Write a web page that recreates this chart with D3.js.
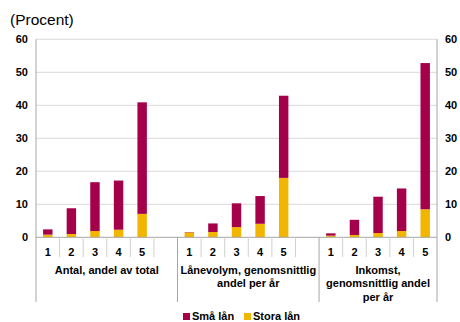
<!DOCTYPE html>
<html>
<head>
<meta charset="utf-8">
<script src="https://cdn.jsdelivr.net/npm/d3@7"></script>
<style>
  html, body { margin: 0; padding: 0; background: #fff; }
  svg text { font-family: "Liberation Sans", Arial, sans-serif; }
</style>
</head>
<body>
<svg id="chart" width="460" height="322"></svg>
<script>
// ---- data ----
const groupLabels = [
  ["Antal, andel av total"],
  ["Lånevolym, genomsnittlig", "andel per år"],
  ["Inkomst,", "genomsnittlig andel", "per år"]
];
const quintiles = ["1", "2", "3", "4", "5"];
// values per group, quintile 1..5
const storaLan = [
  [0.8, 1.0, 1.9, 2.3, 7.1],
  [1.5, 1.6, 3.1, 4.1, 18.0],
  [0.5, 0.7, 1.3, 1.9, 8.5]
];
const smaLan = [
  [1.6, 7.8, 14.8, 14.9, 33.8],
  [0.1, 2.6, 7.2, 8.4, 24.9],
  [0.7, 4.6, 11.0, 12.9, 44.3]
];
const yTicks = [0, 10, 20, 30, 40, 50, 60];
const seriesNames = ["Små lån", "Stora lån"];
const colors = { "Små lån": "#A5004A", "Stora lån": "#F2B500" };

// ---- layout ----
const svg = d3.select("#chart");
const plotL = 36, plotR = 437, plotT = 39.3, plotB = 237.3;

// slots: group0 q1..5 + gap, group1 q1..5 + gap, group2 q1..5
const slots = [];
groupLabels.forEach((g, gi) => {
  quintiles.forEach(q => slots.push({ key: `g${gi}-${q}`, gi, q }));
  if (gi < groupLabels.length - 1) slots.push({ key: `g${gi}-gap`, gi, q: null });
});
const x = d3.scaleBand().domain(slots.map(s => s.key)).range([plotL, plotR]).padding(0);
const y = d3.scaleLinear().domain([0, 60]).range([plotB, plotT]);

// gridlines
svg.append("g").selectAll("line").data(yTicks.filter(t => t > 0)).join("line")
  .attr("x1", plotL).attr("x2", plotR)
  .attr("y1", d => y(d)).attr("y2", d => y(d))
  .attr("stroke", "#d9d9d9").attr("stroke-width", 1);

// bars
const barData = [];
groupLabels.forEach((g, gi) => {
  quintiles.forEach((q, qi) => {
    barData.push({ key: `g${gi}-${q}`, stora: storaLan[gi][qi], sma: smaLan[gi][qi] });
  });
});
const bw = x.bandwidth() * 0.4;
const bars = svg.append("g");
bars.selectAll("rect.stora").data(barData).join("rect")
  .attr("class", "stora")
  .attr("x", d => x(d.key) + (x.bandwidth() - bw) / 2)
  .attr("width", bw)
  .attr("y", d => y(d.stora))
  .attr("height", d => y(0) - y(d.stora))
  .attr("fill", colors["Stora lån"]);
bars.selectAll("rect.sma").data(barData).join("rect")
  .attr("class", "sma")
  .attr("x", d => x(d.key) + (x.bandwidth() - bw) / 2)
  .attr("width", bw)
  .attr("y", d => y(d.stora + d.sma))
  .attr("height", d => y(d.stora) - y(d.stora + d.sma))
  .attr("fill", colors["Små lån"]);

// axes lines
const axisColor = "#a6a6a6";
svg.append("line").attr("x1", plotL).attr("x2", plotR).attr("y1", y(0)).attr("y2", y(0))
  .attr("stroke", axisColor);
const sepBottom = 302;
svg.append("line").attr("x1", plotL).attr("x2", plotL).attr("y1", y(60)).attr("y2", sepBottom).attr("stroke", axisColor);
svg.append("line").attr("x1", plotR).attr("x2", plotR).attr("y1", y(60)).attr("y2", sepBottom).attr("stroke", axisColor);

// slot tick marks & group separators
slots.forEach((s, i) => {
  if (i === 0) return;
  const xx = x(s.key);
  const isGroupStart = s.q === "1";
  svg.append("line").attr("x1", xx).attr("x2", xx)
    .attr("y1", y(0)).attr("y2", isGroupStart ? sepBottom : 257)
    .attr("stroke", isGroupStart ? axisColor : "#d0d0d0");
});

// y tick labels
const yAxisL = d3.axisLeft(y).tickValues(yTicks).tickSize(0).tickPadding(8);
const gL = svg.append("g").attr("transform", `translate(${plotL},0)`).call(yAxisL);
const yAxisR = d3.axisRight(y).tickValues(yTicks).tickSize(0).tickPadding(8);
const gR = svg.append("g").attr("transform", `translate(${plotR},0)`).call(yAxisR);
[gL, gR].forEach(g => {
  g.select(".domain").remove();
  g.selectAll("text").attr("font-size", "11px").attr("font-weight", "bold")
    .attr("fill", "#000").attr("font-family", "Liberation Sans, Arial, sans-serif");
});

// quintile labels
svg.append("g").selectAll("text").data(slots.filter(s => s.q)).join("text")
  .attr("x", s => x(s.key) + x.bandwidth() / 2)
  .attr("y", 256)
  .attr("text-anchor", "middle")
  .attr("font-size", "11px").attr("font-weight", "bold")
  .text(s => s.q);

// group labels
groupLabels.forEach((lines, gi) => {
  const first = x(`g${gi}-1`);
  const last = x(`g${gi}-5`) + x.bandwidth();
  const end = gi < groupLabels.length - 1 ? x(`g${gi}-gap`) + x.bandwidth() : last;
  const cx = (first + end) / 2;
  const t = svg.append("text").attr("text-anchor", "middle")
    .attr("font-size", "11px").attr("font-weight", "bold");
  lines.forEach((ln, li) => {
    t.append("tspan").attr("x", cx).attr("y", 274 + li * 13.3).text(ln);
  });
});

// unit label
svg.append("text").attr("x", 10).attr("y", 25)
  .attr("font-size", "15.5px").text("(Procent)");

// legend
const legend = svg.append("g");
const legendPos = [183, 244];
seriesNames.forEach((name, i) => {
  legend.append("rect").attr("x", legendPos[i]).attr("y", 313).attr("width", 7).attr("height", 7)
    .attr("fill", colors[name]);
  legend.append("text").attr("x", legendPos[i] + 9).attr("y", 320)
    .attr("font-size", "11px").attr("font-weight", "bold").text(name);
});
</script>
</body>
</html>
